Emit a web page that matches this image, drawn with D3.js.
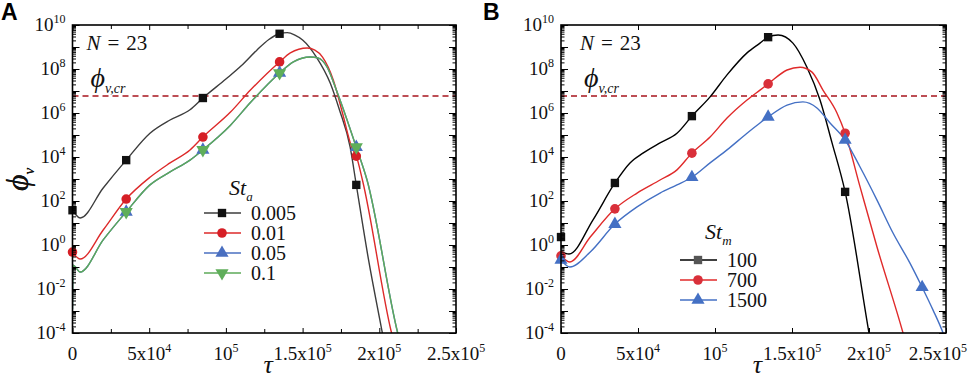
<!DOCTYPE html>
<html>
<head>
<meta charset="utf-8">
<script src="https://cdn.jsdelivr.net/npm/d3@7"></script>
<style>
  body { margin: 0; background: #fff; }
  #chart text { font-family: "Liberation Serif", "Times New Roman", Times, Tinos, "DejaVu Serif", "Noto Serif", FreeSerif, serif; fill: #111; }
  #chart text.letter { font-family: "Liberation Sans", Arial, sans-serif; fill: #000; }
</style>
</head>
<body>
<svg id="chart" width="969" height="381"></svg>
<script>
// axis values
const tauMajor = [0, 5e4, 1e5, 1.5e5, 2e5, 2.5e5]
const tauMinor = [2.5e4, 7.5e4, 1.25e5, 1.75e5, 2.25e5]
const tauLabels = [['0', ''], ['5x10', '4'], ['10', '5'], ['1.5x10', '5'], ['2x10', '5'], ['2.5x10', '5']]
const phiLabelExp = [10, 8, 6, 4, 2, 0, -2, -4]
const phiCritical = 5.9e6

// panel A: St_a series, [tau, phi]
const curveA005 = [[0, 38], [5e3, 17], [2e4, 390], [3.5e4, 7.2e3], [5.05e4, 1.2e5], [6.36e4, 4.8e5], [7.66e4, 1.4e6],
  [8.5e4, 4.8e6], [1e5, 3.5e7], [1.1e5, 1.4e8], [1.2e5, 7e8], [1.28e5, 2.2e9], [1.35e5, 4e9], [1.4e5, 4.5e9], [1.45e5, 3.5e9],
  [1.5e5, 2.1e9], [1.59e5, 3.5e8], [1.68e5, 2.3e7], [1.74e5, 1.4e6], [1.81e5, 2.8e4], [1.85e5, 540], [1.93e5, 0.21],
  [2.02e5, 1e-4], [2.1e5, 1e-7]]
const curveA001 = [[0, 0.48], [5e3, 0.23], [2e4, 4.8], [3.5e4, 123], [5.05e4, 1.2e3], [6.36e4, 5.4e3], [7.66e4, 2.1e4],
  [8.5e4, 8.1e4], [1.03e5, 1.1e6], [1.16e5, 1.1e7], [1.35e5, 2.1e8], [1.42e5, 5.4e8], [1.53e5, 9e8], [1.58e5, 7.2e8],
  [1.63e5, 3.5e8], [1.7e5, 3.2e7], [1.76e5, 1e6], [1.82e5, 2.8e4], [1.85e5, 1.1e4], [1.89e5, 900], [2.08e5, 1e-4],
  [2.16e5, 1e-6]]
const curveA01 = [[0, 1.2e-3], [400, 0.12], [5e3, 0.059], [2e4, 1.7], [3.5e4, 32], [5.05e4, 540], [6.36e4, 2.1e3],
  [7.66e4, 7.2e3], [8.5e4, 2.1e4], [1.03e5, 2.8e5], [1.16e5, 3e6], [1.35e5, 6.6e7], [1.44e5, 2.1e8], [1.55e5, 3.5e8],
  [1.6e5, 3.2e8], [1.66e5, 1.2e8], [1.72e5, 1.1e7], [1.79e5, 4.8e5], [1.85e5, 2.8e4], [1.92e5, 900], [2.12e5, 1e-4],
  [2.2e5, 1e-6]]
const curveA005b = curveA01 // the 0.05 curve sits right under the 0.1 curve
const marksA005 = [[0, 38], [3.5e4, 7.2e3], [8.5e4, 4.8e6], [1.35e5, 4e9], [1.85e5, 540]]
const marksA001 = [[0, 0.48], [3.5e4, 123], [8.5e4, 8.1e4], [1.35e5, 2.1e8], [1.85e5, 1.1e4]]
const marksA01 = [[3.5e4, 32], [8.5e4, 2.1e4], [1.35e5, 6.6e7], [1.85e5, 2.8e4]]

// panel B: St_m series
const curveB100 = [[0, 0.5], [5.2e3, 0.39], [2.08e4, 14], [3.5e4, 660], [4.48e4, 5.4e3], [5.32e4, 1.5e4], [6.43e4, 4.4e4],
  [7.53e4, 1.2e5], [8.5e4, 7.2e5], [9.68e4, 5.4e6], [1.078e5, 5.4e7], [1.208e5, 5.4e8], [1.292e5, 1.5e9], [1.345e5, 2.8e9],
  [1.41e5, 3.5e9], [1.506e5, 1.5e9], [1.597e5, 1.2e8], [1.682e5, 3.9e6], [1.76e5, 4.4e4], [1.845e5, 260], [2e5, 1e-4],
  [2.05e5, 1e-6]]
const curveB700 = [[0, 0.32], [5.8e3, 0.17], [1.9e4, 2.3], [3.5e4, 44], [4.94e4, 230], [6.43e4, 900], [7.53e4, 2.6e3],
  [8.5e4, 1.5e4], [9.68e4, 8.1e4], [1.078e5, 5.9e5], [1.208e5, 3.9e6], [1.292e5, 1.1e7], [1.345e5, 2.1e7], [1.468e5, 9e7],
  [1.552e5, 1.2e8], [1.63e5, 7.2e7], [1.701e5, 1.1e7], [1.792e5, 1e6], [1.845e5, 1.2e5], [1.942e5, 440], [2.052e5, 0.81],
  [2.221e5, 1e-4], [2.26e5, 1e-5]]
const curveB1500 = [[0, 0.21], [5.8e3, 0.1], [1.9e4, 0.48], [3.5e4, 8.9], [4.94e4, 54], [6.43e4, 230], [7.53e4, 540],
  [8.5e4, 1.2e3], [9.68e4, 5.4e3], [1.078e5, 2.1e4], [1.208e5, 1.2e5], [1.292e5, 3.5e5], [1.345e5, 6.6e5], [1.468e5, 2.3e6],
  [1.571e5, 3.2e6], [1.662e5, 1.7e6], [1.747e5, 3.5e5], [1.845e5, 5.9e4], [1.942e5, 3.5e3], [2.052e5, 110], [2.156e5, 3.5],
  [2.266e5, 0.15], [2.345e5, 0.012], [2.416e5, 1.1e-3], [2.481e5, 1e-4], [2.53e5, 1e-5]]
const marksB100 = [[0, 2.3], [3.5e4, 660], [8.5e4, 7.2e5], [1.345e5, 2.8e9], [1.845e5, 260]]
const marksB700 = [[0, 0.32], [3.5e4, 44], [8.5e4, 1.5e4], [1.345e5, 2.1e7], [1.845e5, 1.2e5]]
const marksB1500 = [[0, 0.21], [3.5e4, 8.9], [8.5e4, 1.2e3], [1.345e5, 6.6e5], [1.845e5, 5.9e4], [2.345e5, 0.012]]

const svg = d3.select('#chart')

const shapes = {
  square: d3.symbol(d3.symbolSquare, 70),
  circle: d3.symbol(d3.symbolCircle, 72),
  up: d3.symbol(d3.symbolTriangle, 75),
  down: d3.symbol(d3.symbolTriangle, 75)
}

function marker(sel, shape, color) {
  sel.append('path')
    .attr('d', shapes[shape]())
    .attr('fill', color)
    .attr('transform', d => `translate(${d[0]},${d[1]})` + (shape === 'down' ? ' rotate(180)' : ''))
}

function drawPanel(cfg) {
  const w = cfg.width, h = 308
  const g = svg.append('g').attr('transform', `translate(${cfg.left},25)`)

  const x = d3.scaleLinear().domain([0, 2.5e5]).range([0, w])
  const y = d3.scaleLog().domain([1e-4, 1e10]).range([h, 0])

  const decades = d3.range(-4, 11).map(e => Math.pow(10, e))
  const minors = []
  decades.slice(0, -1).forEach(d => { for (let k = 2; k < 10; k++) minors.push(k * d) })

  g.append('clipPath').attr('id', 'clip' + cfg.id)
    .append('rect').attr('width', w).attr('height', h)

  // dashed critical level
  g.append('line')
    .attr('x1', 0).attr('x2', w)
    .attr('y1', y(phiCritical)).attr('y2', y(phiCritical))
    .attr('stroke', '#a8141c').attr('stroke-width', 1.6)
    .attr('stroke-dasharray', '6,4')

  const line = d3.line()
    .x(d => x(d[0])).y(d => y(d[1]))
    .curve(d3.curveMonotoneX)

  cfg.series.forEach(s => {
    g.append('path')
      .datum(s.curve)
      .attr('clip-path', `url(#clip${cfg.id})`)
      .attr('fill', 'none')
      .attr('stroke', s.line)
      .attr('stroke-width', 1.4)
      .attr('d', line)
  })
  cfg.series.forEach(s => {
    g.append('g').selectAll('g')
      .data(s.marks.map(d => [x(d[0]), y(d[1])]))
      .join('g')
      .call(sel => marker(sel, s.shape, s.fill))
  })

  // ticks, all pointing inward
  const tickG = g.append('g').attr('stroke-width', 1)
  const clean = a => a.call(s => s.select('.domain').remove())
  tickG.append('g').attr('transform', `translate(0,${h})`)
    .call(d3.axisBottom(x).tickValues(tauMajor).tickSize(-5).tickFormat('')).call(clean)
  tickG.append('g')
    .call(d3.axisTop(x).tickValues(tauMajor).tickSize(-5).tickFormat('')).call(clean)
  if (cfg.minorX) {
    tickG.append('g').attr('transform', `translate(0,${h})`)
      .call(d3.axisBottom(x).tickValues(tauMinor).tickSize(-4).tickFormat('')).call(clean)
    tickG.append('g')
      .call(d3.axisTop(x).tickValues(tauMinor).tickSize(-4).tickFormat('')).call(clean)
  }
  tickG.append('g').call(d3.axisLeft(y).tickValues(decades).tickSize(-7).tickFormat('')).call(clean)
  tickG.append('g').call(d3.axisLeft(y).tickValues(minors).tickSize(-3.5).tickFormat('')).call(clean)
  tickG.append('g').attr('transform', `translate(${w},0)`)
    .call(d3.axisRight(y).tickValues(decades).tickSize(-7).tickFormat('')).call(clean)
  tickG.append('g').attr('transform', `translate(${w},0)`)
    .call(d3.axisRight(y).tickValues(minors).tickSize(-3.5).tickFormat('')).call(clean)
  // d3 axes set their own font; drop it so the page font applies
  tickG.selectAll('g').attr('font-family', null).attr('font-size', null)

  g.append('rect').attr('width', w).attr('height', h)
    .attr('fill', 'none').attr('stroke', '#000').attr('stroke-width', 1.6)

  // y tick labels
  g.append('g').selectAll('text')
    .data(phiLabelExp)
    .join('text')
    .attr('x', -7)
    .attr('y', e => y(Math.pow(10, e)) + 6)
    .attr('text-anchor', 'end')
    .style('font-size', '19px')
    .each(function (e) {
      const t = d3.select(this)
      t.append('tspan').text('10')
      t.append('tspan').attr('dy', -8).style('font-size', '12px').text(e)
    })

  // x tick labels
  g.append('g').selectAll('text')
    .data(tauMajor)
    .join('text')
    .attr('x', d => x(d))
    .attr('y', h + 27)
    .attr('text-anchor', 'middle')
    .style('font-size', '19px')
    .each(function (d, i) {
      const t = d3.select(this)
      t.append('tspan').text(tauLabels[i][0])
      if (tauLabels[i][1]) t.append('tspan').attr('dy', -8).style('font-size', '12px').text(tauLabels[i][1])
      // keep the last label inside the picture
      const right = cfg.left + x(d) + this.getComputedTextLength() / 2
      if (right > 967) t.attr('x', x(d) - (right - 967))
    })

  // axis titles
  g.append('text')
    .attr('x', w / 2 + 4).attr('y', h + 40)
    .attr('text-anchor', 'middle')
    .style('font-size', '26px').style('font-style', 'italic')
    .text('τ')
  const yt = g.append('text')
    .attr('transform', `translate(${-cfg.left + 28},${h / 2 + 12}) rotate(-90)`)
    .style('font-style', 'italic')
  yt.append('tspan').style('font-size', '32px').text('ϕ')
  yt.append('tspan').attr('dy', 6).style('font-size', '15px').text('v')

  // annotations
  const nt = g.append('text').attr('x', cfg.nX).attr('y', 25).style('font-size', '21px')
  nt.append('tspan').style('font-style', 'italic').text('N')
  nt.append('tspan').text('\u2004=\u200423')

  const ct = g.append('text').attr('x', cfg.nX + 4).attr('y', 62).style('font-style', 'italic')
  ct.append('tspan').style('font-size', '28px').text('ϕ')
  ct.append('tspan').attr('dy', 6).style('font-size', '14px').text('v,cr')

  // legend
  const lg = g.append('g').attr('transform', `translate(${cfg.legX},${cfg.legY})`)
  const lt = lg.append('text').attr('x', 25).attr('y', -cfg.legTitleGap).style('font-style', 'italic')
  lt.append('tspan').style('font-size', '22px').text('St')
  lt.append('tspan').attr('dy', 6).style('font-size', '13px').text(cfg.legSub)

  cfg.series.filter(s => s.label).forEach((s, i) => {
    const row = lg.append('g').attr('transform', `translate(0,${i * cfg.legStep})`)
    row.append('line').attr('x1', 0).attr('x2', 37)
      .attr('stroke', s.line).attr('stroke-width', 1.6)
    row.append('g').datum([18, 0]).call(sel => marker(sel, s.shape, s.legFill || s.fill))
    row.append('text').attr('x', 47).attr('y', 6.5).style('font-size', '20px').text(s.label)
  })

  svg.append('text')
    .attr('class', 'letter')
    .attr('x', cfg.letterX).attr('y', 20)
    .style('font-weight', 'bold').style('font-size', '23px')
    .text(cfg.letter)
}

drawPanel({
  id: 'A', letter: 'A', letterX: 1, left: 72.5, width: 383.5, minorX: true,
  nX: 14, legX: 131.5, legY: 188, legStep: 20, legTitleGap: 18, legSub: 'a',
  series: [
    { label: '0.005', curve: curveA005, marks: marksA005, line: '#3d3d3d', fill: '#111', shape: 'square' },
    { label: '0.01', curve: curveA001, marks: marksA001, line: '#dd2a2a', fill: '#d61f26', shape: 'circle' },
    { label: '0.05', curve: curveA005b, marks: marksA01, line: '#4a6fc0', fill: '#4a6fc0', shape: 'up' },
    { label: '0.1', curve: curveA01, marks: marksA01, line: '#5daa58', fill: '#5fae5a', shape: 'down' }
  ]
})

drawPanel({
  id: 'B', letter: 'B', letterX: 483, left: 561, width: 385, minorX: false,
  nX: 19, legX: 119, legY: 235, legStep: 20, legTitleGap: 21, legSub: 'm',
  series: [
    { label: '100', curve: curveB100, marks: marksB100, line: '#000', fill: '#111', legFill: '#555', shape: 'square' },
    { label: '700', curve: curveB700, marks: marksB700, line: '#e02a2a', fill: '#d9303a', shape: 'circle' },
    { label: '1500', curve: curveB1500, marks: marksB1500, line: '#4470c4', fill: '#4470c4', shape: 'up' }
  ]
})
</script>
</body>
</html>
